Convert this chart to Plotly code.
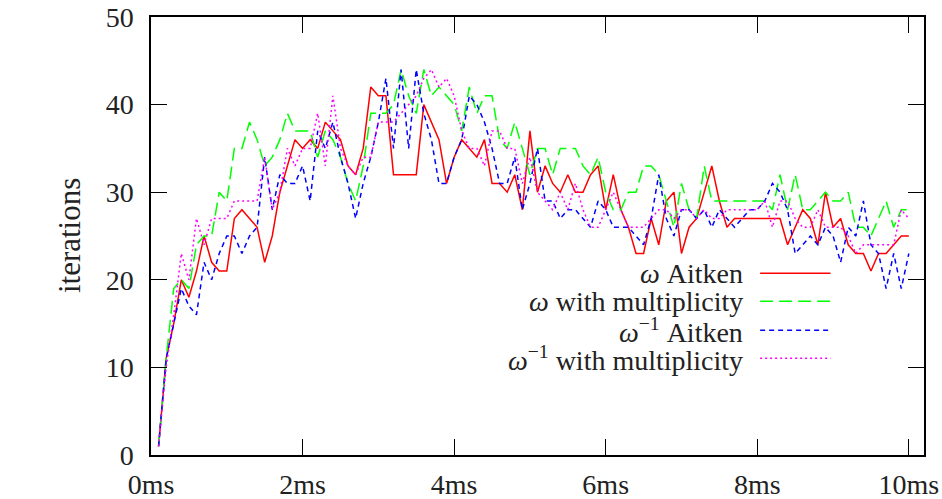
import plotly.graph_objects as go

# time axis (ms) – samples every 0.1 ms
times = [round(0.1 * k, 1) for k in range(1, 101)]

omega_aitken = [1, 11, 15, 20, 18, 21, 25, 22, 21, 21,
                27, 28, 27, 26, 22, 25, 30, 33, 36, 35,
                36, 35, 38, 37, 36, 33, 32, 35, 42, 41,
                41, 32, 32, 32, 32, 40, 38, 36, 31, 34,
                36, 35, 34, 36, 31, 31, 30, 32, 28, 37,
                30, 33, 31, 30, 32, 30, 30, 32, 33, 28,
                32, 28, 26, 23, 23, 27, 24, 29, 30, 23,
                26, 27, 30, 33, 29, 26, 27, 27, 27, 27,
                27, 27, 27, 24, 26, 28, 27, 24, 30, 26,
                27, 24, 23, 23, 21, 23, 23, 24, 25, 25]

omega_mult = [1, 11, 19, 20, 19, 24, 25, 25, 30, 29,
              35, 35, 38, 36, 33, 34, 36, 39, 37, 37,
              37, 34, 37, 36, 34, 31, 29, 33, 39, 39,
              39, 40, 44, 41, 39, 44, 41, 42, 41, 40,
              37, 42, 39, 41, 41, 36, 35, 38, 35, 32,
              35, 35, 32, 35, 35, 35, 33, 32, 34, 30,
              28, 28, 30, 30, 33, 33, 32, 29, 26, 31,
              28, 27, 33, 29, 29, 29, 29, 29, 29, 29,
              29, 28, 32, 28, 32, 28, 28, 29, 30, 29,
              29, 30, 26, 26, 25, 27, 29, 26, 28, 28]

inv_aitken = [1, 11, 15, 19, 17, 16, 22, 20, 23, 25,
              25, 23, 25, 26, 34, 28, 32, 31, 31, 33,
              29, 37, 35, 38, 34, 31, 27, 31, 34, 38,
              43, 35, 44, 35, 44, 39, 36, 31, 31, 34,
              36, 41, 40, 38, 35, 31, 31, 34, 28, 31,
              35, 29, 29, 27, 28, 28, 27, 26, 29, 28,
              26, 26, 26, 25, 24, 27, 32, 27, 25, 28,
              28, 27, 28, 26, 28, 27, 26, 27, 28, 28,
              29, 31, 30, 28, 23, 24, 25, 24, 26, 25,
              22, 26, 25, 29, 24, 23, 19, 23, 19, 23]

inv_mult = [1, 10, 16, 23, 20, 27, 24, 27, 27, 27,
            29, 29, 29, 29, 34, 28, 30, 35, 33, 35,
            35, 39, 33, 41, 35, 33, 32, 34, 34, 38,
            38, 38, 39, 40, 41, 43, 44, 42, 43, 41,
            37, 35, 35, 33, 37, 37, 35, 35, 31, 34,
            30, 29, 28, 30, 28, 31, 28, 26, 26, 28,
            30, 28, 26, 26, 26, 27, 28, 28, 27, 28,
            28, 27, 28, 27, 27, 28, 28, 28, 28, 28,
            29, 26, 29, 29, 27, 26, 26, 28, 26, 26,
            26, 25, 23, 24, 24, 24, 24, 24, 28, 27]

x_tickvals = [0, 2, 4, 6, 8, 10]
x_ticktext = ["0ms", "2ms", "4ms", "6ms", "8ms", "10ms"]
y_tickvals = [0, 10, 20, 30, 40, 50]

series = [
    ("<i>ω</i> Aitken", omega_aitken, "#ff0000", "solid"),
    ("<i>ω</i> with multiplicity", omega_mult, "#00ff00", "13px,6px"),
    ("<i>ω</i><sup>−1</sup> Aitken", inv_aitken, "#0000ff", "5px,4px"),
    ("<i>ω</i><sup>−1</sup> with multiplicity", inv_mult, "#ff00ff", "2px,3px"),
]

FONT = "Liberation Serif"
fig = go.Figure()
for name, vals, col, dash in series:
    fig.add_trace(go.Scatter(x=times, y=vals, mode="lines", name=name,
                             line=dict(color=col, width=1.5, dash=dash),
                             showlegend=False))

# manual legend (text left, sample right, as in gnuplot)
leg_y = [0.415, 0.351, 0.285, 0.221]
for (name, vals, col, dash), yy in zip(series, leg_y):
    fig.add_annotation(xref="paper", yref="paper", x=0.769, y=yy,
                       text=name, showarrow=False, xanchor="right",
                       yanchor="middle", font=dict(family=FONT, size=28, color="#222"))
    fig.add_shape(type="line", xref="paper", yref="paper",
                  x0=0.788, x1=0.879, y0=yy, y1=yy,
                  line=dict(color=col, width=1.5, dash=dash))

fig.add_annotation(xref="paper", yref="paper", x=-0.106, y=0.5,
                   text="iterations", textangle=-90, showarrow=False,
                   xanchor="center", yanchor="middle",
                   font=dict(family=FONT, size=31, color="#222"))

axis_common = dict(showline=True, linecolor="black", linewidth=1.5, mirror="ticks",
                   ticks="inside", ticklen=16, tickcolor="black", tickwidth=1,
                   showgrid=False, zeroline=False, automargin=False,
                   tickfont=dict(family=FONT, size=28, color="#222"))

fig.update_layout(
    width=942, height=499,
    margin=dict(l=151, r=18, t=17, b=44, autoexpand=False),
    paper_bgcolor="white", plot_bgcolor="white",
    xaxis=dict(range=[0, 10.2], tickvals=x_tickvals, ticktext=x_ticktext,
               ticklabelstandoff=4, **axis_common),
    yaxis=dict(range=[0, 50], tickvals=y_tickvals, ticklabelstandoff=10, **axis_common),
)

# remove the default 8px page margin so the figure sits at the window's corner
fig.write_html("out.html",
               config={"displayModeBar": False},
               post_script="document.body.style.margin='0px';document.body.style.overflow='hidden';")
